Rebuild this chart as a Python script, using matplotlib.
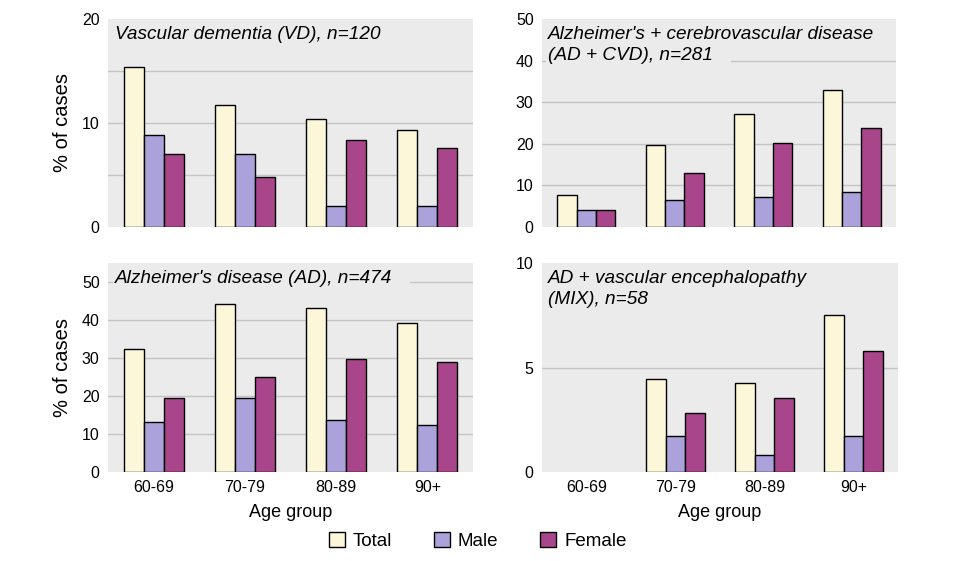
import matplotlib
matplotlib.use("Agg")
import matplotlib.pyplot as plt
import numpy as np
from matplotlib.patches import Patch

plt.rcParams['font.family'] = ['Liberation Sans', 'DejaVu Sans']

age_groups = ["60-69", "70-79", "80-89", "90+"]
series_names = ["Total", "Male", "Female"]
colors = ["#FDF7DA", "#ABA2DC", "#A8458B"]

vd_total = [15.4, 11.7, 10.4, 9.3]
vd_male = [8.8, 7.0, 2.0, 2.0]
vd_female = [7.0, 4.8, 8.4, 7.6]

cvd_total = [7.8, 19.6, 27.1, 32.9]
cvd_male = [4.2, 6.6, 7.1, 8.5]
cvd_female = [4.2, 12.9, 20.1, 23.9]

ad_total = [32.4, 44.3, 43.2, 39.3]
ad_male = [13.1, 19.4, 13.6, 12.3]
ad_female = [19.4, 25.0, 29.7, 28.9]

mix_total = [0, 4.47, 4.28, 7.49]
mix_male = [0, 1.7, 0.83, 1.7]
mix_female = [0, 2.8, 3.56, 5.81]

W, H = 955, 561
fig = plt.figure(figsize=(W / 100, H / 100), dpi=100)

def rect(x0, y0, x1, y1):
    return [x0 / W, 1 - y1 / H, (x1 - x0) / W, (y1 - y0) / H]

panels = [
    dict(pos=rect(108, 19, 473, 227), data=(vd_total, vd_male, vd_female), ylim=20,
         ticks=[0, 10, 20], grid=[5, 10, 15], title=["Vascular dementia (VD), n=120"],
         ylabel=True, xlabels=False),
    dict(pos=rect(542, 19, 896, 227), data=(cvd_total, cvd_male, cvd_female), ylim=50,
         ticks=[0, 10, 20, 30, 40, 50], grid=[10, 20, 30, 40],
         title=["Alzheimer's + cerebrovascular disease", "(AD + CVD), n=281"],
         ylabel=False, xlabels=False),
    dict(pos=rect(108, 263, 473, 472), data=(ad_total, ad_male, ad_female), ylim=55,
         ticks=[0, 10, 20, 30, 40, 50], grid=[10, 20, 30, 40, 50],
         title=["Alzheimer's disease (AD), n=474"], ylabel=True, xlabels=True),
    dict(pos=rect(542, 263, 898, 472), data=(mix_total, mix_male, mix_female), ylim=10,
         ticks=[0, 5, 10], grid=[5], title=["AD + vascular encephalopathy", "(MIX), n=58"],
         ylabel=False, xlabels=True),
]

x = np.arange(len(age_groups))
bw = 0.22
for p in panels:
    ax = fig.add_axes(p["pos"])
    ax.set_facecolor("#EBEBEB")
    for g in p["grid"]:
        ax.axhline(g, color="#C4C4C4", lw=1.0, zorder=0.5)
    for i, (vals, c) in enumerate(zip(p["data"], colors)):
        v = np.array(vals, dtype=float)
        mask = v > 0
        ax.bar(x[mask] + (i - 1) * bw, v[mask], width=bw, color=c,
               edgecolor="black", linewidth=1.0, zorder=2)
    ax.set_xlim(-0.5, 3.5)
    ax.set_ylim(0, p["ylim"])
    ax.set_yticks(p["ticks"])
    ax.set_xticks(x)
    for s in ax.spines.values():
        s.set_visible(False)
    ax.tick_params(length=0, labelsize=11.5, pad=6)
    if p["xlabels"]:
        ax.set_xticklabels(age_groups)
        ax.set_xlabel("Age group", fontsize=13, labelpad=6)
    else:
        ax.set_xticklabels([])
    if p["ylabel"]:
        ax.set_ylabel("% of cases", fontsize=14.5, labelpad=7)
    ax_h_px = p["pos"][3] * H
    for k, line in enumerate(p["title"]):
        y_top = 1 - (7 + k * 21.5) / ax_h_px
        t = ax.text(0.018, y_top, line + "   ", transform=ax.transAxes, ha="left", va="top",
                    fontsize=13.7, style="italic", zorder=3 + k,
                    bbox=dict(facecolor="#EBEBEB", edgecolor="none",
                              boxstyle="square,pad=0.1"))
        t.set_clip_on(True)

handles = [Patch(facecolor=c, edgecolor="black", linewidth=1.0) for c in colors]
fig.legend(handles, series_names, loc="center", bbox_to_anchor=(0.5, 1 - 541 / H),
           ncol=3, frameon=False, fontsize=13.5, handlelength=0.85, handleheight=0.85,
           columnspacing=2.2, handletextpad=0.45)

fig.savefig("out.png", dpi=100)
